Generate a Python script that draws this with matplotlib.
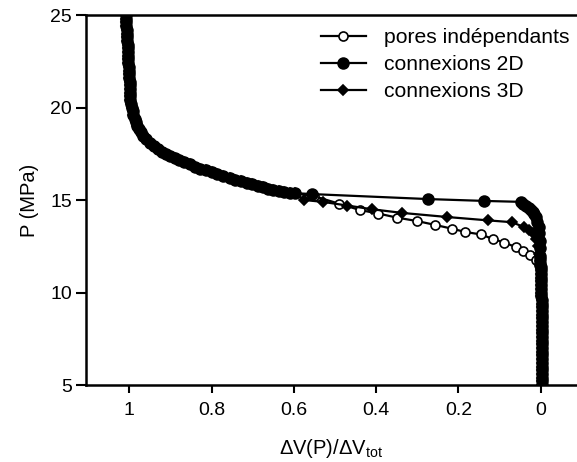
import matplotlib
matplotlib.use("Agg")
import matplotlib.pyplot as plt

plt.rcParams['font.family'] = ['Liberation Sans', 'DejaVu Sans']
plt.rcParams['mathtext.fontset'] = 'custom'
plt.rcParams['mathtext.rm'] = 'Liberation Sans'
plt.rcParams['mathtext.it'] = 'Liberation Sans'

# partie commune (haute pression, x ~ 1)
head_x = [1.008, 1.008, 1.007, 1.007, 1.006, 1.006, 1.005, 1.005, 1.004, 1.004,
          1.003, 1.003, 1.002, 1.002, 1.001, 1.001, 1.0, 1.0, 0.999, 0.999,
          0.999, 0.998,
          0.998, 0.997, 0.996, 0.994, 0.992, 0.99, 0.987, 0.984, 0.98, 0.976,
          0.971, 0.966,
          0.96, 0.95, 0.94, 0.93, 0.92, 0.91, 0.90, 0.889, 0.878, 0.866,
          0.853, 0.84, 0.827, 0.814, 0.80, 0.786, 0.771, 0.756, 0.742, 0.728,
          0.715, 0.702, 0.688, 0.675, 0.663, 0.651, 0.637, 0.623, 0.61, 0.598]
head_p = [25.0, 24.8, 24.6, 24.4, 24.2, 24.0, 23.8, 23.6, 23.4, 23.2,
          23.0, 22.8, 22.6, 22.4, 22.2, 22.0, 21.8, 21.6, 21.4, 21.2,
          21.0, 20.8,
          20.6, 20.4, 20.2, 20.0, 19.8, 19.6, 19.4, 19.2, 19.0, 18.83,
          18.66, 18.48,
          18.30, 18.08, 17.90, 17.75, 17.62, 17.51, 17.40, 17.28, 17.16, 17.04,
          16.92, 16.80, 16.70, 16.61, 16.52, 16.42, 16.31, 16.19, 16.10, 16.01,
          15.92, 15.84, 15.76, 15.68, 15.61, 15.54, 15.48, 15.43, 15.40, 15.37]

# pores independants
iso_x = [0.55, 0.49, 0.44, 0.395, 0.35, 0.30, 0.256, 0.216, 0.183, 0.146,
         0.117, 0.089, 0.061, 0.042, 0.027, 0.012, 0.004]
iso_p = [15.2, 14.8, 14.46, 14.27, 14.05, 13.86, 13.65, 13.45, 13.27, 13.14,
         12.9, 12.7, 12.46, 12.26, 12.04, 11.77, 11.5]

# connexions 2D
c2d_x = [0.556, 0.273, 0.137, 0.049, 0.042, 0.035, 0.029, 0.024, 0.02,
         0.016, 0.012, 0.008, 0.005, 0.004, 0.003, 0.002, 0.002, 0.001, 0.001]
c2d_p = [15.32, 15.05, 14.95, 14.9, 14.78, 14.65, 14.55, 14.46, 14.35,
         14.25, 14.1, 13.8, 13.56, 13.2, 12.8, 12.4, 12.0, 11.8, 11.6]

# connexions 3D
c3d_x = [0.575, 0.53, 0.47, 0.41, 0.336, 0.227, 0.129, 0.07, 0.04, 0.029,
         0.02, 0.012, 0.007, 0.004, 0.002]
c3d_p = [15.0, 14.9, 14.7, 14.5, 14.3, 14.08, 13.9, 13.8, 13.53, 13.4,
         13.2, 12.9, 12.5, 12.1, 11.7]

# partie commune (basse pression, x ~ 0)
tail_x = [0.0, 0.0, -0.001, -0.001, -0.001, -0.001, -0.001, -0.001, -0.001,
          -0.002, -0.002, -0.002, -0.002, -0.002, -0.002, -0.002, -0.002,
          -0.002, -0.002, -0.002, -0.002, -0.002, -0.002, -0.002, -0.002,
          -0.002, -0.002, -0.002, -0.002, -0.002, -0.002, -0.002, -0.002]
tail_p = [11.4, 11.2, 11.0, 10.8, 10.6, 10.4, 10.2, 10.0, 9.8,
          9.6, 9.4, 9.2, 9.0, 8.8, 8.6, 8.4, 8.2,
          8.0, 7.8, 7.6, 7.4, 7.2, 7.0, 6.8, 6.6,
          6.4, 6.2, 6.0, 5.8, 5.6, 5.4, 5.2, 5.0]

series = [
    ("pores indépendants", iso_x, iso_p, "o", "white", 6.5),
    ("connexions 2D", c2d_x, c2d_p, "o", "black", 7.8),
    ("connexions 3D", c3d_x, c3d_p, "D", "black", 5.3),
]

fig = plt.figure(figsize=(5.77, 4.62), dpi=100)
ax = fig.add_axes([86 / 577, 77 / 462, 491 / 577, 370 / 462])

for label, mx, mp, mk, fc, ms in series:
    x = head_x + mx + tail_x
    p = head_p + mp + tail_p
    ax.plot(x, p, color="black", linewidth=1.6, marker=mk, markersize=ms,
            markerfacecolor=fc, markeredgecolor="black", markeredgewidth=1.2,
            label=label)

ax.set_xlim(1.105, -0.088)
ax.set_ylim(5, 25)
ax.set_xticks([1, 0.8, 0.6, 0.4, 0.2, 0])
ax.set_xticklabels(["1", "0.8", "0.6", "0.4", "0.2", "0"])
ax.set_yticks([5, 10, 15, 20, 25])
ax.tick_params(labelsize=14, width=1.5, length=7.5, direction="out", pad=2.5)
ax.tick_params(axis="x", length=6, pad=6)
for s in ["left", "bottom", "top"]:
    ax.spines[s].set_linewidth(1.8)
ax.spines["right"].set_visible(False)

ax.set_ylabel("P (MPa)", fontsize=14.5, labelpad=8)
ax.set_xlabel(r"ΔV(P)/ΔV$_{\mathrm{tot}}$", fontsize=14.5, labelpad=13)

ax.legend(loc="upper right", frameon=False, fontsize=15.2, handlelength=2.1,
          handletextpad=0.85, labelspacing=0.38, borderaxespad=0, borderpad=0,
          bbox_to_anchor=(569 / 577, 434 / 462),
          bbox_transform=fig.transFigure)

fig.savefig("out.png", dpi=100)
